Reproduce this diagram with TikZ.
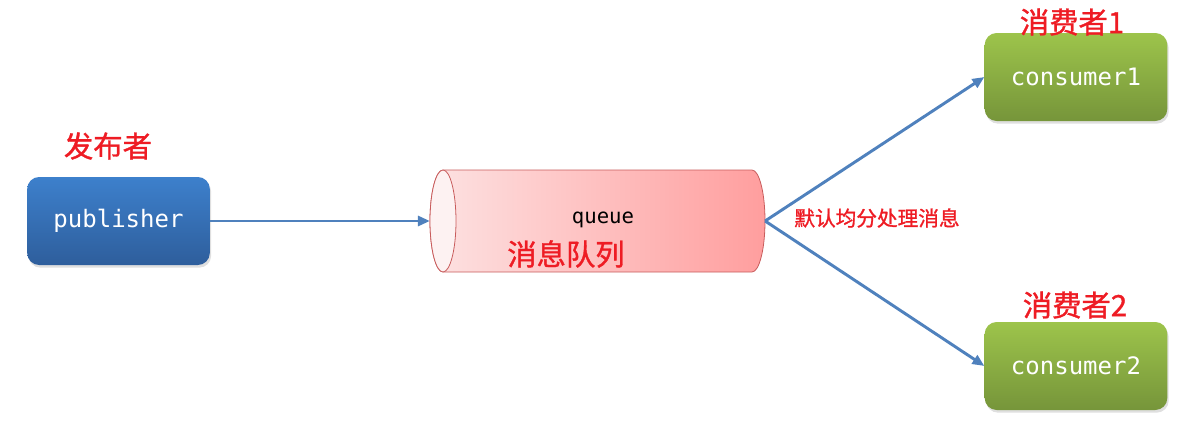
\documentclass[tikz,border=0pt]{standalone}
\usepackage{fontspec}
\setmonofont{DejaVu Sans Mono}
\newfontfamily\cjk[FakeBold=1.2]{Noto Sans CJK SC}
\usetikzlibrary{arrows.meta,positioning,calc,shadows}
\definecolor{kekfel}{HTML}{3D80CC}
\definecolor{kekle}{HTML}{2E5E9C}
\definecolor{zoldfel}{HTML}{9DC44B}
\definecolor{zoldle}{HTML}{76953A}
\definecolor{nyilszin}{HTML}{4F81BD}
\definecolor{piros}{HTML}{EE1C24}
\definecolor{sorbal}{HTML}{FDE2E2}
\definecolor{sorjobb}{HTML}{FF9E9E}
\definecolor{sorveg}{HTML}{FDF2F2}
\definecolor{sorkeret}{HTML}{C85C5C}
\tikzset{
  doboz/.style={rounded corners=9pt,minimum width=137pt,minimum height=66pt,
                text=white,font=\ttfamily\fontsize{18}{21}\selectfont,
                drop shadow={opacity=0.25,shadow xshift=1pt,shadow yshift=-2pt}},
  kek/.style={doboz,top color=kekfel,bottom color=kekle},
  zold/.style={doboz,top color=zoldfel,bottom color=zoldle},
  sor/.style={minimum width=251pt,minimum height=76.5pt,inner sep=0pt},
  sorvonal/.style={draw=sorkeret,line width=0.6pt},
  nyil/.style={-{Triangle[length=9pt,width=7.5pt]},draw=nyilszin,fill=nyilszin,line width=2.2pt},
  felirat/.style={text=piros,font=\cjk\fontsize{22}{26}\selectfont,inner sep=0pt},
  kisfelirat/.style={text=piros,font=\cjk\fontsize{15.5}{18}\selectfont,inner sep=0pt},
}
\begin{document}
\begin{tikzpicture}[x=0.75pt,y=-0.75pt]
  \useasboundingbox (0,0) rectangle (1196,446);
  \node[kek] (pub) at (118.5,221) {publisher};
  \node[sor] (queue) at (597.5,221) {};
  % henger
  \shade[sorvonal,left color=sorbal,right color=sorjobb]
    (443,170) -- (752,170) arc[start angle=90,end angle=-90,x radius=9.75pt,y radius=38.25pt]
    -- (443,272) arc[start angle=270,end angle=90,x radius=9.75pt,y radius=38.25pt] -- cycle;
  \filldraw[sorvonal,fill=sorveg] (443,221) ellipse[x radius=9.75pt,y radius=38.25pt];
  \node (qtext) at (603,220) [font=\ttfamily\fontsize{15.5}{18}\selectfont] {queue};
  \node[zold] (c1) at (1076,77) {consumer1};
  \node[zold] (c2) at (1076,366) {consumer2};
  % feliratok
  \node[felirat] (pubcimke) at (108,146) {发布者};
  \node[felirat] (sorcimke) at (566,254) {消息队列};
  \node[felirat] (c1cimke) at (1072,22) {消费者1};
  \node[felirat] (c2cimke) at (1075,305) {消费者2};
  \node[kisfelirat] (eloszt) at (877,218) {默认均分处理消息};
  \draw[nyil] (pub) -- (queue.west);
  \draw[nyil] (queue.east) -- (c1.west);
  \draw[nyil] (queue.east) -- (c2.west);
\end{tikzpicture}
\end{document}
